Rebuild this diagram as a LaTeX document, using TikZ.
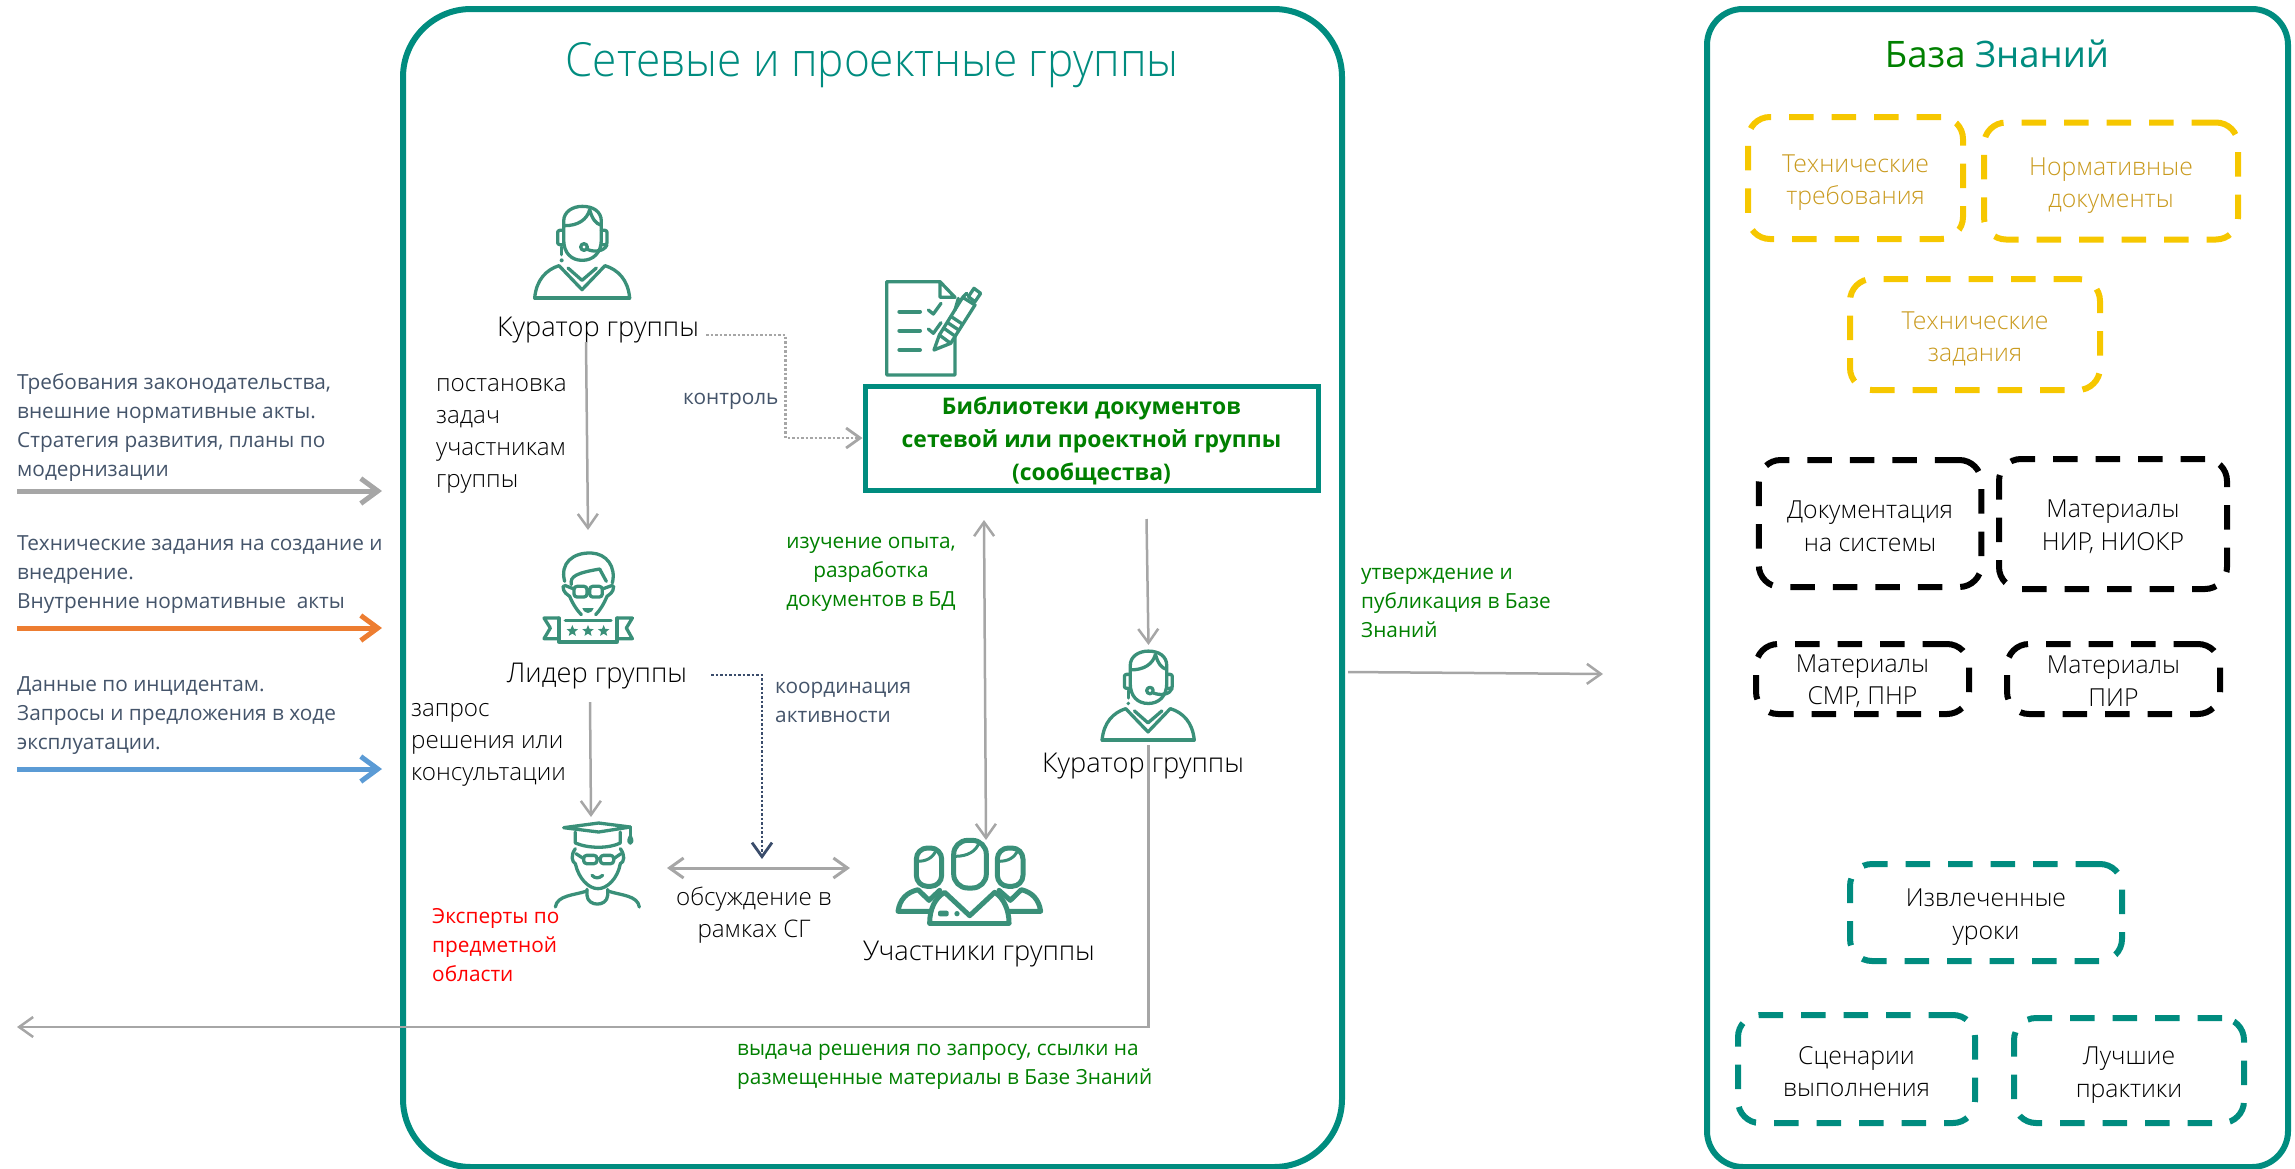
\documentclass[tikz,border=0pt]{standalone}
\usepackage{fontspec}
\setmainfont{Open Sans}
\newfontfamily\lightf{Open Sans Light}
\newfontfamily\titlef[FakeStretch=0.94]{Open Sans Light}
\usetikzlibrary{arrows.meta}
\definecolor{teal1}{HTML}{008C7F}
\definecolor{iconc}{HTML}{3A9079}
\definecolor{gray1}{HTML}{A6A6A6}
\definecolor{slate}{HTML}{44546A}
\definecolor{green1}{HTML}{008000}
\definecolor{yel1}{HTML}{F6C700}
\definecolor{yeltx}{HTML}{C99A1E}
\definecolor{orange1}{HTML}{ED7D31}
\definecolor{blue1}{HTML}{5B9BD5}
\definecolor{navy1}{HTML}{3A4C6B}
\newcommand{\fsz}[2]{\fontsize{#1}{#2}\selectfont}
\newcommand{\ts}[1][26.5]{\rule{0pt}{#1pt}}
\tikzset{
 dbox/.style={draw,rounded corners=22pt,line width=6pt,dash pattern=on 24.5pt off 18pt,inner sep=0pt,align=center,font=\lightf\fsz{24.8}{32.5}},
 ybox/.style={dbox,draw=yel1,text=yeltx},
 kbox/.style={dbox,draw=black,text=black},
 tbox/.style={dbox,draw=teal1,text=black},
 lab/.style={inner sep=0pt,align=center,font=\lightf\fsz{27.2}{32},text=black},
 note/.style={inner sep=0pt,align=left,font=\lightf\fsz{24.2}{32},text=black},
 side/.style={inner sep=0pt,align=left,font=\fsz{20.8}{29},text=slate},
 gnote/.style={inner sep=0pt,font=\fsz{20.8}{29},text=green1},
 link/.style={draw=gray1,line width=2.5pt,-{Straight Barb[length=14pt,width=20pt]}},
 blink/.style={draw=gray1,line width=2.5pt,{Straight Barb[length=14pt,width=20pt]}-{Straight Barb[length=14pt,width=20pt]}},
 dotlink/.style={link,line width=2.8pt,dash pattern=on 2.5pt off 2pt},
 thick1/.style={line width=5pt,-{Straight Barb[length=17pt,width=25pt]}},
 icon/.style={draw=iconc,line width=3.3pt,line cap=round,line join=round},
 kurator/.pic={
  \begin{scope}[x=.3333pt,y=-.3333pt,shift={(-247,-325)},icon]
   \draw (192,150) -- (192,95) .. controls (192,65) and (220,50) .. (248,50) .. controls (280,50) and (305,65) .. (305,95) -- (305,150) .. controls (305,190) and (280,212) .. (248,212) .. controls (215,212) and (192,190) .. (192,150);
   \draw (195,108) .. controls (235,108) and (262,90) .. (270,60) .. controls (278,90) and (290,102) .. (303,106);
   \draw[rounded corners=2pt] (190,122) -- (174,122) -- (174,165) -- (190,165);
   \draw[rounded corners=2pt] (305,122) -- (322,122) -- (322,165) -- (305,165);
   \draw (322,165) .. controls (315,185) and (285,188) .. (265,180);
   \draw (253,172) circle[radius=10];
   \draw (186,172) -- (186,195);
   \fill[iconc] (186,212) circle[radius=6];
   \draw (105,325) -- (390,325);
   \draw (105,325) .. controls (110,270) and (140,240) .. (178,228) -- (247,300) -- (316,228) .. controls (355,240) and (385,270) .. (390,325);
   \draw (205,235) -- (247,272) -- (290,235);
  \end{scope}},
 leader/.pic={
  \begin{scope}[x=.3333pt,y=-.3333pt,shift={(-235,-307)},icon]
   \draw (165,125) .. controls (150,70) and (190,38) .. (245,40) .. controls (290,42) and (320,80) .. (308,130);
   \draw (185,135) .. controls (180,110) and (200,100) .. (270,88) -- (290,125);
   \draw (160,140) .. controls (160,160) and (175,165) .. (180,170) .. controls (190,195) and (205,215) .. (215,225);
   \draw (312,140) .. controls (312,160) and (297,165) .. (292,170) .. controls (282,195) and (268,215) .. (258,225);
   \draw[rounded corners=3pt] (193,140) rectangle (232,172);
   \draw[rounded corners=3pt] (240,140) rectangle (278,172);
   \draw (232,150) -- (240,150);
   \draw (165,137) -- (193,148);
   \draw (308,137) -- (278,148);
   \fill[iconc] (218,205) .. controls (225,225) and (245,225) .. (252,205) -- cycle;
   \draw (167,243) -- (304,243);
   \draw (148,235) -- (148,307) -- (322,307) -- (322,235);
   \draw (148,235) -- (103,235) -- (122,265) -- (103,297) -- (148,297);
   \draw (322,235) -- (368,235) -- (350,265) -- (368,297) -- (322,297);
   \foreach \cx in {188,235,282}{
    \fill[iconc,shift={(\cx,274)}] (270:18) -- (306:8) -- (342:18) -- (18:8) -- (54:18) -- (90:8) -- (126:18) -- (162:8) -- (198:18) -- (234:8) -- cycle;}
  \end{scope}},
 expert/.pic={
  \begin{scope}[x=.3333pt,y=-.3333pt,shift={(-200,-290)},icon]
   \draw (100,52) -- (205,38) -- (300,50) -- (205,65) -- cycle;
   \draw (135,65) -- (135,98) .. controls (175,115) and (235,115) .. (270,98) -- (270,65);
   \draw (300,50) -- (300,78);
   \draw (300,78) .. controls (285,105) and (315,105) .. (300,78);
   \draw (135,115) .. controls (120,135) and (125,155) .. (135,160) .. controls (145,205) and (175,235) .. (203,235) .. controls (230,235) and (262,205) .. (270,160) .. controls (282,155) and (285,135) .. (270,115);
   \draw[rounded corners=3pt] (160,135) rectangle (200,160);
   \draw[rounded corners=3pt] (210,135) rectangle (250,160);
   \draw (200,145) -- (210,145);
   \draw (137,130) -- (160,145);
   \draw (272,130) -- (250,145);
   \draw (185,195) .. controls (195,205) and (205,205) .. (217,195);
   \draw (170,237) -- (170,255) .. controls (172,290) and (230,290) .. (232,255) -- (232,237);
   \draw (75,290) .. controls (80,255) and (130,255) .. (170,242);
   \draw (327,290) .. controls (322,255) and (272,255) .. (232,242);
  \end{scope}},
 members/.pic={
  \begin{scope}[x=.3333pt,y=-.3333pt,shift={(-268,-310)},icon,line width=5pt]
   \draw[rounded corners=14pt] (222,62) rectangle (320,205);
   \draw[line width=3pt] (225,110) .. controls (265,110) and (290,95) .. (300,65);
   \draw[rounded corners=11pt] (110,85) rectangle (186,200);
   \draw[line width=3pt] (112,125) .. controls (140,125) and (160,115) .. (170,90);
   \draw[rounded corners=11pt] (353,85) rectangle (430,200);
   \draw[line width=3pt] (355,125) .. controls (385,125) and (405,115) .. (415,90);
   \draw (150,310) -- (388,310);
   \draw (150,310) .. controls (150,270) and (165,235) .. (195,218) -- (270,288) -- (345,218) .. controls (372,235) and (388,270) .. (388,310);
   \draw (150,275) -- (55,275) .. controls (60,240) and (80,218) .. (115,210) -- (148,242) -- (180,212);
   \draw (385,275) -- (483,275) .. controls (478,240) and (458,218) .. (425,210) -- (392,242) -- (358,212);
   \fill[iconc,rounded corners=2pt] (175,273) rectangle (207,290);
   \fill[iconc] (232,282) circle[radius=8];
  \end{scope}},
 docicon/.pic={
  \begin{scope}[x=.3333pt,y=-.3333pt,shift={(-180,-345)},icon]
   \draw (285,225) -- (285,345) -- (80,345) -- (80,65) -- (240,65) -- (285,112) -- (240,112) -- (240,65);
   \draw[line width=4pt] (118,155) -- (180,155) (118,212) -- (180,212) (118,270) -- (180,270);
   \draw (205,150) -- (220,162) -- (243,130);
   \draw (205,207) -- (220,220) -- (243,188);
   \draw[fill=white] (222,270) -- (238,225) -- (308,112) -- (345,135) -- (272,250) -- cycle;
   \draw (308,112) -- (320,100) (342,85) -- (362,100) -- (345,125) -- (325,110) -- cycle;
   \draw (285,150) -- (295,115);
   \draw (238,225) -- (272,250) (252,205) -- (285,228) (263,188) -- (296,210) (274,170) -- (307,192);
  \end{scope}}
}
\begin{document}
\begin{tikzpicture}[x=1pt,y=-1pt]
\useasboundingbox (0,0) rectangle (2295,1168);
% frames
\node[draw=teal1,line width=6pt,rounded corners=68pt,minimum width=939pt,minimum height=1158pt,inner sep=0pt] (sg) at (872.5,588) {};
\node[draw=teal1,line width=6pt,rounded corners=36pt,minimum width=581pt,minimum height=1158pt,inner sep=0pt] (kb) at (1997.5,588) {};
\node[inner sep=0pt,text=teal1,font=\titlef\fsz{47}{50}] (sgt) at (872,65) {Сетевые и проектные группы};
\node[inner sep=0pt,font=\fsz{36.5}{40}] (kbt) at (1997,54) {\textcolor{green1}{База} \textcolor{teal1}{Знаний}};
% library
\node[draw=teal1,line width=5pt,minimum width=453pt,minimum height=104pt,inner sep=0pt,align=center,text=green1,font=\bfseries\fsz{22.9}{33}] (lib) at (1091.5,438) {\rule{0pt}{23.5pt}Библиотеки документов\\сетевой или проектной группы\\(сообщества)};
% icons
\pic (i1) at (582,298) {kurator};
\pic[scale=.97] (i2) at (1148,740) {kurator};
\pic (i3) at (588,642) {leader};
\pic (i4) at (597,907) {expert};
\pic (i5) at (969,923) {members};
\pic (i6) at (920,375) {docicon};
% labels
\node[lab] (cur1) at (598,330) {Куратор группы};
\node[lab] (lead) at (597,676) {Лидер группы};
\node[lab] (memb) at (979,954) {Участники группы};
\node[lab] (cur2) at (1143,766) {Куратор группы};
\node[note,anchor=west] (n1) at (436,436) {постановка\\задач\\участникам\\группы};
\node[note,anchor=west] (n2) at (411,745) {запрос\\решения или\\консультации};
\node[note,align=center] (n3) at (754,915) {обсуждение в\\рамках СГ};
\node[side,anchor=west] (n4) at (683,401) {контроль};
\node[side,anchor=west] (n5) at (775,702) {координация\\активности};
\node[gnote,align=center] (n6) at (871,574) {изучение опыта,\\разработка\\документов в БД};
\node[side,anchor=west,text=red] (n7) at (432,945) {Эксперты по\\предметной\\области};
\node[gnote,align=left,anchor=west] (n8) at (737,1067) {выдача решения по запросу, ссылки на\\размещенные материалы в Базе Знаний};
\node[gnote,align=left,anchor=west] (n9) at (1361,603) {утверждение и\\публикация в Базе\\Знаний};
% left
\node[side,anchor=west] (a1) at (17,428) {Требования законодательства,\\внешние нормативные акты.\\Стратегия развития, планы по\\модернизации};
\node[side,anchor=west] (a2) at (17,575) {Технические задания на создание и\\внедрение.\\Внутренние нормативные\ \ акты};
\node[side,anchor=west] (a3) at (17,716) {Данные по инцидентам.\\Запросы и предложения в ходе\\эксплуатации.};
\coordinate (a1s) at (17,491); \coordinate (a1e) at (382,491);
\coordinate (a2s) at (17,628); \coordinate (a2e) at (382,628);
\coordinate (a3s) at (17,769); \coordinate (a3e) at (382,769);
\draw[thick1,draw=gray1] (a1s) -- (a1e);
\draw[thick1,draw=orange1] (a2s) -- (a2e);
\draw[thick1,draw=blue1] (a3s) -- (a3e);
% knowledge boxes
\node[ybox,minimum width=215pt,minimum height=122pt] (y1) at (1855.5,178) {\ts Технические\\требования};
\node[ybox,minimum width=254pt,minimum height=117pt] (y2) at (2111,181) {\ts Нормативные\\документы};
\node[ybox,minimum width=250pt,minimum height=111pt] (y3) at (1975,334.5) {\ts Технические\\задания};
\node[kbox,minimum width=222.5pt,minimum height=127pt] (k1) at (1870,523.5) {\ts[23.5]Документация\\на системы};
\node[kbox,minimum width=228pt,minimum height=130pt] (k2) at (2113,524) {\ts[23.5]Материалы\\НИР, НИОКР};
\node[kbox,minimum width=213pt,minimum height=70pt] (k3) at (1862.5,679) {\ts[22]Материалы\\СМР, ПНР};
\node[kbox,minimum width=213pt,minimum height=70pt] (k4) at (2113.5,679) {\ts[22]Материалы\\ПИР};
\node[tbox,minimum width=272pt,minimum height=97pt] (t1) at (1986,912.5) {\ts Извлеченные\\уроки};
\node[tbox,minimum width=237pt,minimum height=108pt] (t2) at (1856.5,1069) {\ts[23]Сценарии\\выполнения};
\node[tbox,minimum width=230pt,minimum height=105pt] (t3) at (2129,1070.5) {\ts Лучшие\\практики};
% connectors
\coordinate (c1s) at (586,342); \coordinate (c1e) at (588,530);
\draw[link] (c1s) -- (c1e);
\coordinate (c2s) at (706,335); \coordinate (c2m1) at (785.5,335); \coordinate (c2m2) at (785.5,438);
\draw[dotlink] (c2s) -- (c2m1) -- (c2m2) -- (lib.west);
\coordinate (c3s) at (984,520); \coordinate (c3e) at (986,840);
\draw[blink] (c3s) -- (c3e);
\coordinate (c4s) at (1146.5,519); \coordinate (c4e) at (1148.5,645);
\draw[link] (c4s) -- (c4e);
\coordinate (c5s) at (590,702); \coordinate (c5e) at (591,817);
\draw[link] (c5s) -- (c5e);
\coordinate (c6s) at (711,675); \coordinate (c6m) at (762,675); \coordinate (c6e) at (762,859);
\draw[dotlink,draw=navy1] (c6s) -- (c6m) -- (c6e);
\coordinate (c7s) at (667,868); \coordinate (c7e) at (850,868);
\draw[blink,line width=3pt] (c7s) -- (c7e);
\coordinate (c8s) at (1148.5,745); \coordinate (c8m) at (1148.5,1027); \coordinate (c8e) at (17,1027);
\draw[link] (c8s) -- (c8m) -- (c8e);
\coordinate (c9s) at (1348,672); \coordinate (c9e) at (1603,674);
\draw[link] (c9s) -- (c9e);
\end{tikzpicture}
\end{document}
